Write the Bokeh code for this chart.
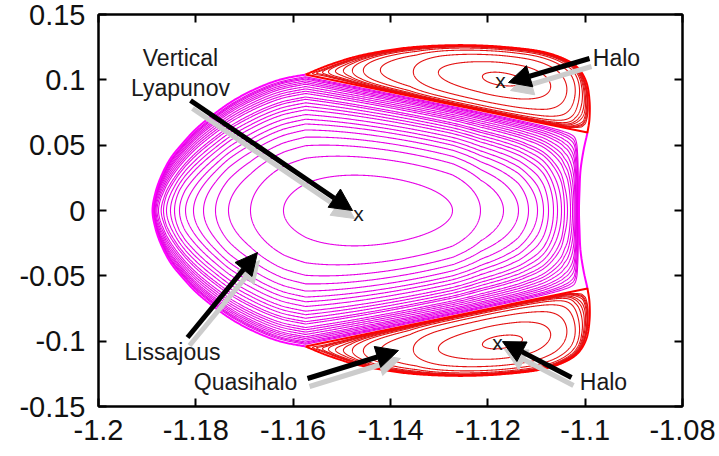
import numpy as np
from bokeh.plotting import figure
from bokeh.models import Arrow, NormalHead, FixedTicker, LinearAxis, Range1d
from bokeh.core.properties import value
from bokeh.embed import file_html
from bokeh.resources import INLINE

# ---------------- data ----------------
x_ticks = [-1.2, -1.18, -1.16, -1.14, -1.12, -1.1, -1.08]
x_tick_labels = ["-1.2", "-1.18", "-1.16", "-1.14", "-1.12", "-1.1", "-1.08"]
y_ticks = [-0.15, -0.1, -0.05, 0, 0.05, 0.1, 0.15]
y_tick_labels = ["-0.15", "-0.1", "-0.05", "0", "0.05", "0.1", "0.15"]

# energy boundary (upper half): left point -> over the top -> right point
edge_x = [-1.18890, -1.18829, -1.18705, -1.18521, -1.18274, -1.17986, -1.17637,
          -1.17226, -1.16753, -1.16260, -1.15747, -1.15233, -1.14616, -1.13795,
          -1.12973, -1.12151, -1.11329, -1.10815, -1.10404, -1.10137, -1.09973,
          -1.09911, -1.09911, -1.09952, -1.10034, -1.10096, -1.10116, -1.10127]
edge_y = [0.00000, 0.01378, 0.02679, 0.03980, 0.05128, 0.06276, 0.07347,
          0.08418, 0.09337, 0.10026, 0.10408, 0.11173, 0.11862, 0.12398,
          0.12628, 0.12628, 0.12398, 0.12092, 0.11556, 0.10867, 0.09796,
          0.08418, 0.07041, 0.05969, 0.04592, 0.03061, 0.01531, 0.00000]
# upper separatrix end points
sep_x = [-1.15747, -1.09952]
sep_y = [0.10408, 0.05969]

lyap_x, lyap_y = -1.1449, 0.0
halo_x, halo_y = -1.1174, 0.1010

# Lissajous curves: left / right extents on y=0 and top at the centre column
liss_left = [-1.16199, -1.16877, -1.17329, -1.17596, -1.17842, -1.18048, -1.18212,
             -1.18336, -1.18438, -1.18521, -1.18603, -1.18664, -1.18712, -1.18767,
             -1.18798, -1.18818, -1.18835, -1.18849, -1.18860, -1.18870, -1.18876,
             -1.18882, -1.18886]
liss_right = [-1.12726, -1.12151, -1.11678, -1.11370, -1.11164, -1.10979, -1.10856,
              -1.10753, -1.10651, -1.10568, -1.10486, -1.10425, -1.10363, -1.10301,
              -1.10260, -1.10229, -1.10209, -1.10192, -1.10178, -1.10166, -1.10156,
              -1.10147, -1.10139]
liss_top = [0.02679, 0.04056, 0.04821, 0.05357, 0.05816, 0.06199, 0.06505,
            0.06811, 0.07117, 0.07347, 0.07577, 0.07806, 0.07959, 0.08189,
            0.08342, 0.08495, 0.08648, 0.08801, 0.08916, 0.09031, 0.09145,
            0.09222, 0.09298]

# quasihalo curves (upper region): left tip, right end, top at the halo column
quasi_left = [-1.12110, -1.13014, -1.13527, -1.14206, -1.14555, -1.14781,
              -1.14966, -1.15130, -1.15274, -1.15397, -1.15521, -1.15603]
quasi_right = [-1.11288, -1.10712, -1.10384, -1.10219, -1.10137, -1.10075,
               -1.10034, -1.10007, -1.09989, -1.09977, -1.09966, -1.09960]
quasi_top = [0.10561, 0.11327, 0.11862, 0.12168, 0.12321, 0.12398,
             0.12436, 0.12459, 0.12482, 0.12494, 0.12501, 0.12509]

label_text = ["Vertical", "Lyapunov", "Halo", "Lissajous", "Quasihalo", "Halo"]
label_x = [-1.18315, -1.18315, -1.09356, -1.18479, -1.16979, -1.09623]
label_y = [0.11709, 0.09413, 0.11709, -0.10867, -0.13087, -0.13087]

mark_x = [-1.14658, -1.11740, -1.11801]
mark_y = [-0.0020, 0.09949, -0.10102]

arrow_x0 = [-1.18110, -1.09911, -1.18171, -1.15705, -1.10281]
arrow_y0 = [0.08418, 0.11633, -0.09719, -0.12857, -0.12781]
arrow_x1 = [-1.14781, -1.11575, -1.16733, -1.13836, -1.11699]
arrow_y1 = [0.00000, 0.09796, -0.03214, -0.10714, -0.10031]

# ---------------- layout ----------------
X0, X1 = -1.2, -1.08
Y0, Y1 = -0.15, 0.15
WIDTH, HEIGHT = 719, 456
BL, BR, BT, BB = 98, 37, 14, 50
KX = (WIDTH - BL - BR) / (X1 - X0)
KY = (HEIGHT - BT - BB) / (Y1 - Y0)

eu = np.array(edge_x) * KX
ev = np.array(edge_y) * KY
TL = np.array([sep_x[0] * KX, sep_y[0] * KY])
TR = np.array([sep_x[1] * KX, sep_y[1] * KY])
iTL = int(np.argmin(np.hypot(eu - TL[0], ev - TL[1])))
iTR = int(np.argmin(np.hypot(eu - TR[0], ev - TR[1])))
NPER = 24


def catmull(points, n_per=NPER):
    P = np.asarray(points, dtype=float)
    ext = np.vstack([2 * P[0] - P[1], P, 2 * P[-1] - P[-2]])
    out = []
    t = np.linspace(0.0, 1.0, n_per, endpoint=False)[:, None]
    for i in range(len(P) - 1):
        p0, p1, p2, p3 = ext[i], ext[i + 1], ext[i + 2], ext[i + 3]
        seg = 0.5 * (2 * p1 + (-p0 + p2) * t + (2 * p0 - 5 * p1 + 4 * p2 - p3) * t ** 2
                     + (-p0 + 3 * p1 - 3 * p2 + p3) * t ** 3)
        out.append(seg)
    out.append(P[-1][None, :])
    return np.vstack(out)


upper = np.stack([eu, ev], axis=1)
mirror = upper * np.array([1.0, -1.0])
# left arc (bottom corner -> left point -> top corner), smoothed
left_full = catmull(np.vstack([mirror[iTL:0:-1], upper[0:iTL + 1]]))
left_half = left_full[iTL * NPER:]
# right edge (top corner -> middle -> bottom corner), smoothed
nr = len(upper) - iTR
right_full = catmull(np.vstack([upper[iTR:], mirror[-2:iTR - 1:-1]]))
right_half = right_full[:(nr - 1) * NPER + 1]
# top arc of the halo region, smoothed
top_arc = catmull(upper[iTL:iTR + 1])


def cos_space(a, b, n=600):
    t = np.linspace(0.0, np.pi, n)
    return a + (b - a) * (1.0 - np.cos(t)) / 2.0


# ---- Lissajous family ----
hu = np.append(np.maximum.accumulate(left_half[:, 0]), TR[0])
hv = np.append(left_half[:, 1], TR[1])


def H(u):
    return np.interp(u, hu, hv)


uc = lyap_x * KX
uL = left_half[0, 0]
uR = right_half[-1, 0]
H0 = H(uc)
lq = np.array(liss_top) * KY / H0
lL = np.array(liss_left) * KX
lR = np.array(liss_right) * KX
ns = np.concatenate([[uL], lL[::-1], [uc], lR, [uR]])
nq = np.concatenate([[1.0], lq[::-1], [0.0], lq, [1.0]])

liss_xs, liss_ys = [], []
for a, b, q in zip(lL, lR, lq):
    c = 1.0 - q * q
    s = cos_space(a, b)
    A = 1.0 - np.interp(s, ns, nq) ** 2
    tau = np.sqrt(np.clip(1.0 - c / np.maximum(A, 1e-12), 0.0, 1.0))
    h = H(s) * tau
    liss_xs.append(np.concatenate([s, s[::-1]]) / KX)
    liss_ys.append(np.concatenate([h, -h[::-1]]) / KY + lyap_y)

# ---- halo / quasihalo family ----
es = (TR - TL) / np.linalg.norm(TR - TL)
et = np.array([-es[1], es[0]])
Ls = float(np.linalg.norm(TR - TL))
arc = top_arc - TL
arc_s = np.maximum.accumulate(arc @ es)
arc_t = np.maximum(arc @ et, 0.0)


def Wd(s):
    return np.interp(s, arc_s, arc_t)


P = np.array([halo_x * KX, halo_y * KY]) - TL
s0, t0 = float(P @ es), float(P @ et)
tau0 = t0 / Wd(s0)
sg = np.linspace(0.0, Ls, 4000)
ridge_u = np.maximum.accumulate(TL[0] + sg * es[0] + tau0 * Wd(sg) * et[0])
sL = np.interp(np.array(quasi_left) * KX, ridge_u, sg)
sR = np.interp(np.array(quasi_right) * KX, ridge_u, sg)
k = int(np.argmax(top_arc[:, 0]))
v_arc = np.interp(halo_x * KX, np.maximum.accumulate(top_arc[:k + 1, 0]), top_arc[:k + 1, 1])
qh = (np.array(quasi_top) * KY - halo_y * KY) / (v_arc - halo_y * KY)
nsh = np.concatenate([[0.0], sL[::-1], [s0], sR, [Ls]])
nqh = np.concatenate([[1.0], qh[::-1], [0.0], qh, [1.0]])

quasi_xs, quasi_ys = [], []
for a, b, q in zip(sL, sR, qh):
    c = 1.0 - q * q
    s = cos_space(a, b)
    A = 1.0 - np.interp(s, nsh, nqh) ** 2
    tau = np.sqrt(np.clip(1.0 - c / np.maximum(A, 1e-12), 0.0, 1.0))
    w = Wd(s)
    tm = tau0 * w
    tu = tm + tau * (1.0 - tau0) * w
    td = tm - tau * tau0 * w
    ss = np.concatenate([s, s[::-1]])
    tt = np.concatenate([tu, td[::-1]])
    u = TL[0] + ss * es[0] + tt * et[0]
    v = TL[1] + ss * es[1] + tt * et[1]
    for sign in (1.0, -1.0):
        quasi_xs.append(u / KX)
        quasi_ys.append(sign * v / KY)

# ---- boundaries ----
mag_bx = [left_full[:, 0] / KX, right_full[:, 0] / KX]
mag_by = [left_full[:, 1] / KY, right_full[:, 1] / KY]
red_bx, red_by = [], []
for sign in (1.0, -1.0):
    red_bx.append(np.append(top_arc[:, 0], TL[0]) / KX)
    red_by.append(sign * np.append(top_arc[:, 1], TL[1]) / KY)

# ---------------- figure ----------------
p = figure(width=WIDTH, height=HEIGHT, x_range=Range1d(X0, X1), y_range=Range1d(Y0, Y1),
           output_backend="svg", toolbar_location=None,
           min_border_left=BL, min_border_right=BR, min_border_top=BT, min_border_bottom=BB)
p.grid.visible = False
p.outline_line_color = "black"
p.outline_line_width = 2
p.background_fill_color = "white"
p.border_fill_color = "white"

p.multi_line(liss_xs, liss_ys, line_color="#e600e6", line_width=1.1)
p.multi_line(mag_bx, mag_by, line_color="#ff00ff", line_width=2)
p.multi_line(quasi_xs, quasi_ys, line_color="#e31212", line_width=1.1)
p.multi_line(red_bx, red_by, line_color="#ff0000", line_width=2)


def tick_key(t):
    return int(t) if float(t).is_integer() else float(t)


def style_axis(ax, ticks, labels, show):
    ax.ticker = FixedTicker(ticks=ticks)
    ax.major_label_overrides = {tick_key(t): (l if show else "") for t, l in zip(ticks, labels)}
    ax.major_tick_in = 8
    ax.major_tick_out = 0
    ax.minor_tick_in = 0
    ax.minor_tick_out = 0
    ax.major_tick_line_width = 2
    ax.major_tick_line_color = "black"
    ax.axis_line_width = 2
    ax.axis_line_color = "black"
    ax.major_label_text_font = "Liberation Sans"
    ax.major_label_text_font_size = "29px" if show else "0px"
    ax.major_label_text_color = "#111111"
    ax.major_label_standoff = 13 if show else 0


style_axis(p.xaxis[0], x_ticks, x_tick_labels, True)
style_axis(p.yaxis[0], y_ticks, y_tick_labels, True)
ax_top = LinearAxis()
style_axis(ax_top, x_ticks, x_tick_labels, False)
p.add_layout(ax_top, "above")
ax_right = LinearAxis()
style_axis(ax_right, y_ticks, y_tick_labels, False)
p.add_layout(ax_right, "right")

# arrows: grey shadow then black arrow
dx, dy = 2.0 / KX, -8.0 / KY
for x0, y0, x1, y1 in zip(arrow_x0, arrow_y0, arrow_x1, arrow_y1):
    p.add_layout(Arrow(x_start=x0 + dx, y_start=y0 + dy, x_end=x1 + dx, y_end=y1 + dy,
                       line_color="#cccccc", line_width=5,
                       end=NormalHead(size=22, fill_color="#cccccc", line_color="#cccccc")))
for x0, y0, x1, y1 in zip(arrow_x0, arrow_y0, arrow_x1, arrow_y1):
    p.add_layout(Arrow(x_start=x0, y_start=y0, x_end=x1, y_end=y1,
                       line_color="black", line_width=5,
                       end=NormalHead(size=22, fill_color="black", line_color="black")))

p.text(x=label_x, y=label_y, text=label_text, text_font=value("Liberation Sans"),
       text_font_size="23px", text_align="center", text_baseline="middle", text_color="#1a1a1a")
p.text(x=mark_x, y=mark_y, text=["x"] * len(mark_x), text_font=value("Liberation Sans"),
       text_font_size="21px", text_align="center", text_baseline="middle", text_color="#1a1a1a")

open("out.html", "w").write(file_html(p, INLINE))
